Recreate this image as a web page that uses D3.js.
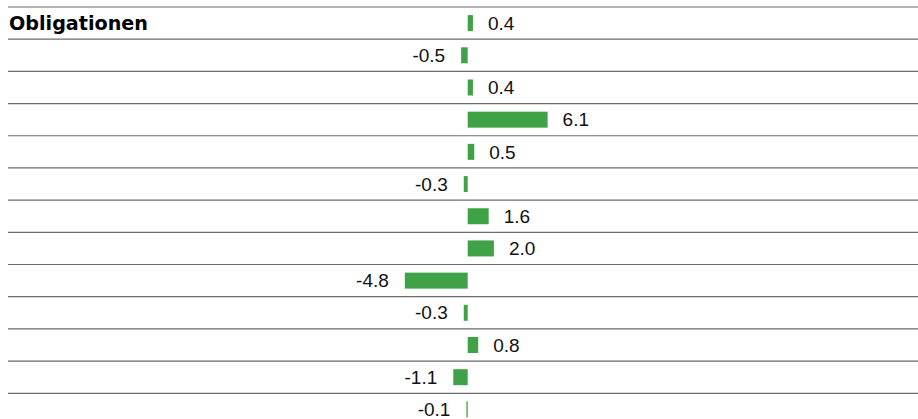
<!DOCTYPE html>
<html lang="de">
<head>
    <meta charset="UTF-8">
    <title>Obligationen</title>
    <script src="https://d3js.org/d3.v7.min.js"></script>
    <style>
        body { margin: 0; background: #fff; }
        .rule { stroke: #6b6b6b; stroke-width: 1.2px; }
        .bar { fill: #3fa247; }
        .val { font-family: "Liberation Sans", Arial, sans-serif; font-size: 19px; fill: #111; }
        .cat { font-family: "DejaVu Sans", sans-serif; font-weight: bold; font-size: 17px; fill: #000; }
    </style>
</head>
<body>
<svg width="918" height="419"></svg>
<script>
    const width = 918;
    const height = 419;

    const categories = ["Obligationen", "", "", "", "", "", "", "", "", "", "", "", ""];
    const values = [0.4, -0.5, 0.4, 6.1, 0.5, -0.3, 1.6, 2.0, -4.8, -0.3, 0.8, -1.1, -0.1];

    const rowH = 32.19;
    const topY = 7;
    const barH = 16;

    const svg = d3.select("svg");

    const y = d3.scaleBand()
        .domain(d3.range(values.length))
        .range([topY, topY + rowH * values.length]);

    // 13.1 px per unit, zero at 467.7
    const x = d3.scaleLinear()
        .domain([-4.8, 6.1])
        .range([467.7 - 4.8 * 13.1, 467.7 + 6.1 * 13.1]);

    svg.append("g")
        .selectAll("line")
        .data(d3.range(values.length))
        .enter().append("line")
        .attr("class", "rule")
        .attr("x1", 8)
        .attr("x2", width)
        .attr("y1", d => y(d))
        .attr("y2", d => y(d));

    svg.append("g")
        .selectAll("rect")
        .data(values)
        .enter().append("rect")
        .attr("class", "bar")
        .attr("x", d => x(Math.min(0, d)))
        .attr("width", d => Math.abs(x(d) - x(0)))
        .attr("y", (d, i) => y(i) + (rowH - barH) / 2)
        .attr("height", barH);

    svg.append("g")
        .selectAll("text")
        .data(values)
        .enter().append("text")
        .attr("class", "val")
        .attr("x", d => d >= 0 ? x(d) + 15 : x(d) - 16)
        .attr("y", (d, i) => y(i) + rowH / 2)
        .attr("dy", "0.35em")
        .attr("text-anchor", d => d >= 0 ? "start" : "end")
        .text(d => d.toFixed(1));

    const cat = svg.append("g")
        .selectAll("text")
        .data(categories)
        .enter().append("text")
        .attr("class", "cat")
        .attr("x", 9)
        .attr("y", (d, i) => y(i) + rowH / 2)
        .attr("dy", "0.38em")
        .text(d => d);

    // fit title width to reference (~139px)
    cat.each(function(d) {
        if (!d) return;
        const w = this.getComputedTextLength();
        const fs = 17 * 139 / w;
        d3.select(this).style("font-size", fs + "px");
    });
</script>
</body>
</html>
